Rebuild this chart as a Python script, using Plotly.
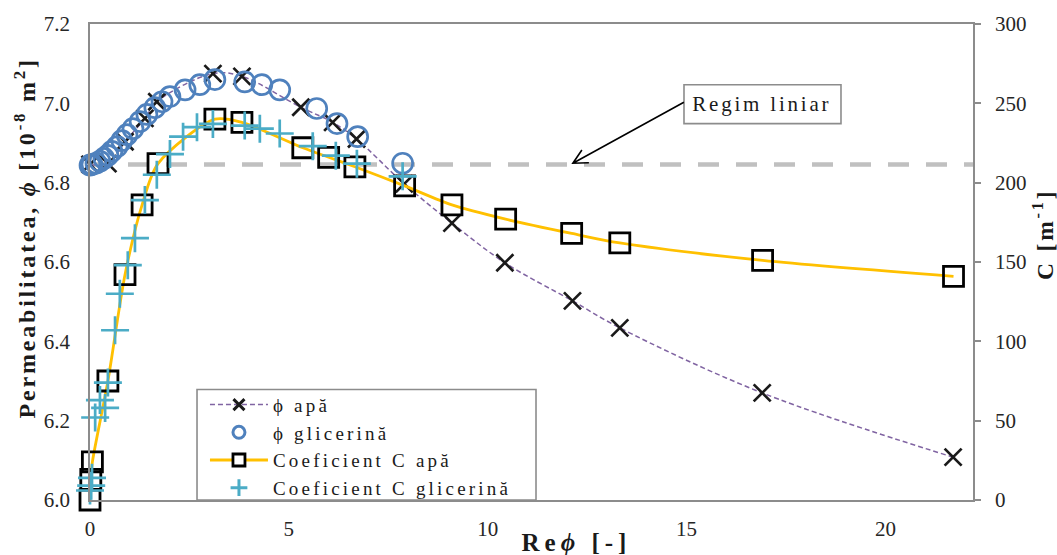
import plotly.graph_objects as go

# ---- data -------------------------------------------------------------
# Permeability (left axis, 10^-8 m^2) vs Reynolds number, water
re_phi_apa = [0.0, 0.45, 0.88, 1.38, 1.68, 3.09, 3.82, 5.3, 6.1, 6.7, 7.9,
              9.1, 10.43, 12.13, 13.32, 16.9, 21.7]
phi_apa = [6.846, 6.848, 6.903, 6.962, 7.004, 7.075, 7.068, 6.99, 6.952, 6.91,
           6.797, 6.698, 6.598, 6.502, 6.434, 6.27, 6.108]

# Permeability vs Reynolds number, glycerine
re_phi_gli = [0.0, 0.05, 0.15, 0.25, 0.35, 0.45, 0.55, 0.68, 0.80, 0.93, 1.08,
              1.26, 1.43, 1.63, 1.81, 2.01, 2.39, 2.76, 3.14, 3.89, 4.32, 4.77,
              5.70, 6.21, 6.73, 7.86]
phi_gli = [6.844, 6.846, 6.849, 6.854, 6.861, 6.869, 6.879, 6.891, 6.906, 6.921,
           6.936, 6.954, 6.972, 6.989, 7.004, 7.017, 7.034, 7.047, 7.060, 7.054,
           7.047, 7.034, 6.987, 6.949, 6.916, 6.849]

# Form-drag coefficient C (right axis, m^-1), water
re_c_apa = [0.0, 0.02, 0.06, 0.45, 0.88, 1.31, 1.71, 3.14, 3.82, 5.35, 6.0,
            6.66, 7.91, 9.1, 10.45, 12.11, 13.32, 16.91, 21.71]
c_apa = [0, 13, 24, 75, 142, 186, 212, 240, 238, 222, 216, 210, 198, 186, 177,
         168, 162, 151, 141]

# Form-drag coefficient C, glycerine
re_c_gli = [0.0, 0.03, 0.05, 0.13, 0.25, 0.38, 0.45, 0.63, 0.75, 0.95, 1.13,
            1.38, 1.68, 2.01, 2.34, 2.69, 3.09, 3.89, 4.27, 4.77, 5.6, 6.18,
            6.71, 7.86]
c_gli = [6, 9, 14, 52, 63, 58, 74, 107, 130, 148, 165, 189, 205, 218, 229, 235,
         237, 236, 234, 231, 223, 217, 212, 204]

# Linear (Darcy) regime permeability level
regim_x = [0.0, 22.2]
regim_phi = [6.846, 6.846]

series_names = ["ϕ apă", "ϕ glicerină", "Coeficient C apă", "Coeficient C glicerină"]

x_ticks = [0, 5, 10, 15, 20]
y_ticks = [6.0, 6.2, 6.4, 6.6, 6.8, 7.0, 7.2]
y2_ticks = [0, 50, 100, 150, 200, 250, 300]

SERIF = "Liberation Serif, Times New Roman, serif"
AXIS_GREY = "#8c8c8c"
INK = "#1a1a1a"
TICK_FONT = dict(family=SERIF, size=21, color="#262626")

PURPLE = "#8064a2"
BLUE = "#4f81bd"
GOLD = "#ffc000"
TEAL = "#4bacc6"

fig = go.Figure()

fig.add_trace(go.Scatter(
    x=regim_x, y=regim_phi, mode="lines", showlegend=False, hoverinfo="skip",
    line=dict(color="#c0c0c0", width=4.5, dash="21px,17px")))

fig.add_trace(go.Scatter(
    x=re_phi_apa, y=phi_apa, name=series_names[0], mode="lines+markers",
    showlegend=False,
    line=dict(color=PURPLE, width=1.5, dash="5px,3px", shape="spline"),
    marker=dict(symbol="x-thin-open", size=17, color=INK,
                line=dict(color=INK, width=2.7)),
    cliponaxis=False))

fig.add_trace(go.Scatter(
    x=re_phi_gli, y=phi_gli, name=series_names[1], mode="markers",
    showlegend=False,
    marker=dict(symbol="circle-open", size=20, color=BLUE,
                line=dict(color=BLUE, width=2.7)),
    cliponaxis=False))

fig.add_trace(go.Scatter(
    x=re_c_apa, y=c_apa, name=series_names[2], mode="lines+markers",
    yaxis="y2", showlegend=False,
    line=dict(color=GOLD, width=2.8, shape="spline", smoothing=0.8),
    marker=dict(symbol="square-open", size=20, color="#000000",
                line=dict(color="#000000", width=2.8)),
    cliponaxis=False))

fig.add_trace(go.Scatter(
    x=re_c_gli, y=c_gli, name=series_names[3], mode="markers",
    yaxis="y2", showlegend=False,
    marker=dict(symbol="cross-thin-open", size=20, color=TEAL,
                line=dict(color=TEAL, width=2.7)),
    cliponaxis=False))

# legend keys with smaller symbols than the plotted markers
legend_styles = [
    dict(mode="lines+markers", line=dict(color=PURPLE, width=1.5, dash="5px,3px"),
         marker=dict(symbol="x-thin-open", size=11, color=INK, line=dict(color=INK, width=3))),
    dict(mode="markers",
         marker=dict(symbol="circle-open", size=12, color=BLUE, line=dict(color=BLUE, width=3))),
    dict(mode="lines+markers", line=dict(color=GOLD, width=3),
         marker=dict(symbol="square", size=12, color="white", line=dict(color="#000000", width=2.8))),
    dict(mode="markers",
         marker=dict(symbol="cross-thin-open", size=12, color=TEAL, line=dict(color=TEAL, width=3))),
]
for rank, (name, style) in enumerate(zip(series_names, legend_styles), start=1):
    fig.add_trace(go.Scatter(x=[None], y=[None], name=name, legendrank=rank,
                             hoverinfo="skip", **style))

fig.update_layout(
    width=1057, height=555,
    margin=dict(l=90, r=84, t=22, b=55),
    paper_bgcolor="white", plot_bgcolor="white",
    font=dict(family=SERIF, size=21, color=INK),
    xaxis=dict(range=[0, 22.2], tickvals=x_ticks, ticktext=[str(v) for v in x_ticks],
               showgrid=False, zeroline=False, showline=True, linecolor=AXIS_GREY,
               linewidth=1.6, mirror=True, ticks="", tickfont=TICK_FONT,
               ticklabelstandoff=9),
    yaxis=dict(range=[6.0, 7.2], tickvals=y_ticks, ticktext=[f"{v:.1f}" for v in y_ticks],
               showgrid=False, zeroline=False, showline=True, linecolor=AXIS_GREY,
               linewidth=1.6, ticks="", tickfont=TICK_FONT, ticklabelstandoff=14),
    yaxis2=dict(range=[0, 300], tickvals=y2_ticks, overlaying="y", side="right",
                showgrid=False, zeroline=False, showline=True, linecolor=AXIS_GREY,
                linewidth=1.6, ticks="outside", ticklen=6, tickcolor=AXIS_GREY,
                tickwidth=1.6, tickfont=TICK_FONT, ticklabelstandoff=10),
    legend=dict(x=0.1302, y=0.240, xanchor="left", yanchor="top",
                bgcolor="rgba(0,0,0,0)", borderwidth=0, itemwidth=58,
                tracegroupgap=0, font=dict(family=SERIF, size=19, color=INK)),
    showlegend=True,
)

# legend frame and label frame
fig.add_shape(type="rect", xref="paper", yref="paper", x0=0.1212, x1=0.5051,
              y0=0.0, y1=0.2322, line=dict(color=AXIS_GREY, width=1.6),
              fillcolor="white", layer="below")
fig.add_shape(type="rect", xref="paper", yref="paper", x0=0.6727, x1=0.8505,
              y0=0.7908, y1=0.8724, line=dict(color=AXIS_GREY, width=1.6),
              fillcolor="white", layer="above")

# arrow from the label to the linear-regime line (open V head)
head_re, head_phi = 12.14, 6.849
fig.add_shape(type="path", xref="x", yref="y", xsizemode="pixel", ysizemode="pixel",
              xanchor=head_re, yanchor=head_phi,
              path="M 111 61 L 0 0 M 16 0.5 L 0 0 L 9 13.2",
              line=dict(color="#000000", width=1.6), layer="above")

fig.add_annotation(xref="paper", yref="paper", x=0.7616, y=0.8316,
                   text="Regim liniar", showarrow=False, xanchor="center",
                   yanchor="middle", font=dict(family=SERIF, size=21, color=INK))

# axis titles
fig.add_annotation(xref="paper", yref="paper", x=-0.0736, y=0.550, textangle=-90,
                   text="<b>Permeabilitatea, <i>ϕ</i> [10<sup>-8</sup> m<sup>2</sup>]</b>",
                   showarrow=False, xanchor="center", yanchor="middle",
                   font=dict(family=SERIF, size=24, color=INK))
fig.add_annotation(xref="paper", yref="paper", x=1.0793, y=0.5586, textangle=-90,
                   text="<b>C [m<sup>-1</sup>]</b>", showarrow=False,
                   xanchor="center", yanchor="middle",
                   font=dict(family=SERIF, size=23.5, color=INK))
fig.add_annotation(xref="paper", yref="paper", x=0.5504, y=-0.0885,
                   text="<b>Re<i>ϕ</i> [-]</b>", showarrow=False,
                   xanchor="center", yanchor="middle",
                   font=dict(family=SERIF, size=25, color=INK))

# wider character spacing for the legend entries and the text labels
spacing_js = """
document.querySelectorAll('.legend .scrollbox').forEach(function(e){e.removeAttribute('clip-path');});
document.querySelectorAll('.legendtext').forEach(function(e){e.style.letterSpacing='3.2px';});
document.querySelectorAll('.annotation-text').forEach(function(e){e.style.letterSpacing='2.8px';});
document.querySelectorAll('.annotation[data-index="3"] .annotation-text').forEach(function(e){e.style.letterSpacing='5px';});
"""

fig.write_html("out.html", post_script=spacing_js)
